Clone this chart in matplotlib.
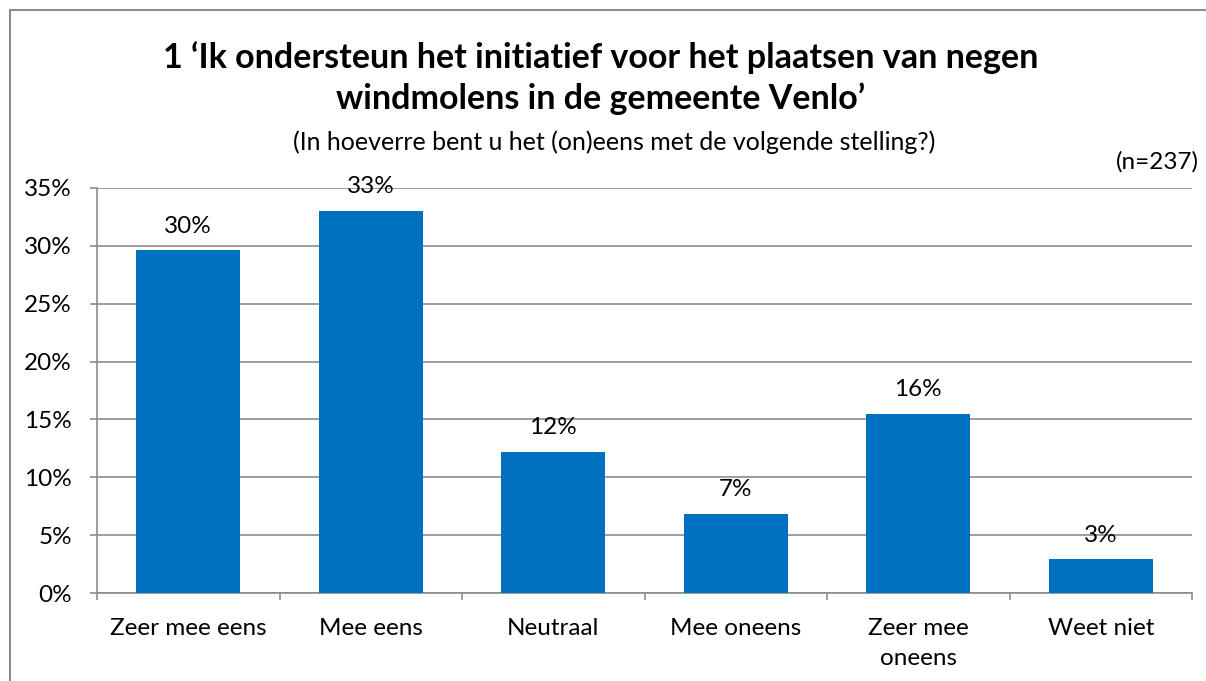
import matplotlib
matplotlib.use("Agg")
import matplotlib.pyplot as plt
from matplotlib.patches import Rectangle

categories = ["Zeer mee eens", "Mee eens", "Neutraal", "Mee oneens", "Zeer mee\noneens", "Weet niet"]
values = [29.6, 33.0, 12.2, 6.8, 15.5, 2.9]
labels = ["30%", "33%", "12%", "7%", "16%", "3%"]
yticks = [0, 5, 10, 15, 20, 25, 30, 35]

plt.rcParams['font.family'] = ['Lato', 'DejaVu Sans']

W, H = 1206, 681
fig = plt.figure(figsize=(W/100, H/100), dpi=100)
fig.patch.set_facecolor("white")

# outer chart frame (partially cropped)
fig.add_artist(Rectangle((10/W, -0.05), 1.2, 1 - 10/H + 0.05, transform=fig.transFigure,
                         fill=False, edgecolor="#8c8c8c", linewidth=1.5))

ax = fig.add_axes([97/W, 1 - 593/H, (1192-97)/W, (593-188)/H])
x = list(range(len(categories)))
ax.bar(x, values, width=0.57, color="#0070C0", zorder=3)
ax.set_xlim(-0.5, len(categories) - 0.5)
ax.set_ylim(0, 35)
ax.set_yticks(yticks)
ax.set_yticklabels([f"{t}%" for t in yticks], fontsize=17.5)
ax.yaxis.grid(True, color="#8c8c8c", linewidth=1.2, zorder=0)
ax.set_xticks(x)
ax.set_xticklabels(categories, fontsize=17.5, linespacing=1.55)
ax.set_xticks([i - 0.5 for i in range(len(categories) + 1)], minor=True)
ax.tick_params(axis="x", which="major", length=0, pad=18)
ax.tick_params(axis="x", which="minor", length=5, color="#8c8c8c", width=1.2)
ax.tick_params(axis="y", length=5, color="#8c8c8c", width=1.2, pad=13)
for s in ["top", "right"]:
    ax.spines[s].set_visible(False)
for s in ["left", "bottom"]:
    ax.spines[s].set_color("#8c8c8c")
    ax.spines[s].set_linewidth(1.2)
for lab in ax.get_xticklabels() + ax.get_yticklabels():
    lab.set_color("black")

for xi, v, lab in zip(x, values, labels):
    ax.annotate(lab, (xi, v), xytext=(0, 10), textcoords="offset points",
                ha="center", va="bottom", fontsize=17.5)

fig.text(601/W, 1 - 78/H, "1 \u2018Ik ondersteun het initiatief voor het plaatsen van negen\nwindmolens in de gemeente Venlo\u2019",
         ha="center", va="center", fontsize=24.5, fontweight="bold", linespacing=1.3)
fig.text(614/W, 1 - 142/H, "(In hoeverre bent u het (on)eens met de volgende stelling?)",
         ha="center", va="center", fontsize=18)
fig.text(1199/W, 1 - 162/H, "(n=237)", ha="right", va="center", fontsize=17.5)

fig.savefig("out.png", dpi=100)
